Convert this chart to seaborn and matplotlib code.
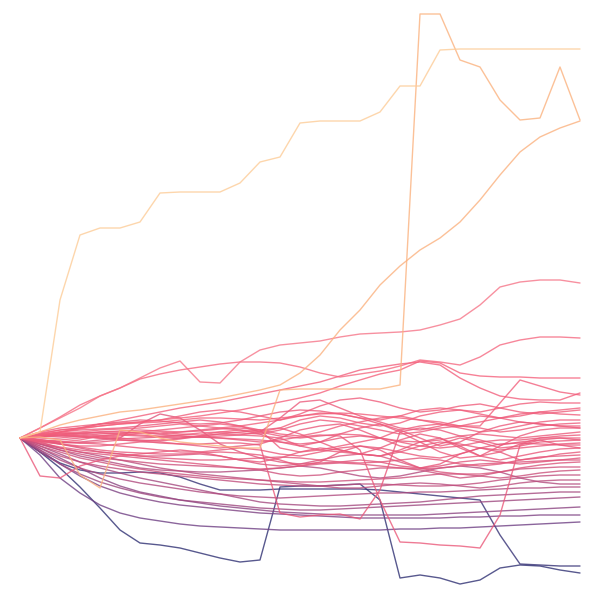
import pandas as pd
import matplotlib
matplotlib.use("Agg")
import matplotlib.pyplot as plt
from matplotlib.colors import LinearSegmentedColormap, Normalize
import seaborn as sns

sns.set_theme(style="white")

# weekly cumulative change of each stock (same start = 0)
weeks = list(range(29))

stair = [0, 6, 138, 203, 210, 210, 216, 245, 246, 246, 246, 255, 276, 281, 315,
         317, 317, 317, 326, 352, 352, 388, 389, 389, 389, 389, 389, 389, 389]
spike = [0, 1, -2, -37, -50, 8, 6, 0, -4, -6, -8, -10, -10, 48, 49,
         49, 49, 49, 49, 53, 424, 424, 378, 371, 338, 318, 320, 371, 318]
climber = [0, 6, 13, 18, 22, 26, 28, 31, 34, 37, 40, 44, 48, 53, 65,
           83, 108, 128, 153, 172, 188, 200, 216, 238, 263, 286, 301, 310, 317]
riser = [0, 10, 20, 30, 42, 50, 60, 70, 77, 56, 55, 76, 88, 93, 95,
         97, 101, 104, 105, 106, 108, 113, 119, 133, 151, 156, 158, 158, 155]
grower = [0, 10, 21, 33, 42, 50, 59, 64, 68, 71, 74, 76, 76, 75, 71,
          65, 61, 64, 67, 72, 78, 76, 73, 81, 93, 98, 101, 101, 100]
slump = [0, -14, -30, -49, -70, -92, -105, -107, -110, -115, -120, -124, -122, -49, -48,
         -48, -47, -46, -62, -140, -137, -140, -146, -142, -130, -127, -128, -132, -135]
drop = [0, -14, -25, -32, -35, -35, -34, -35, -39, -46, -52, -52, -52, -51, -51,
        -51, -51, -51, -52, -54, -56, -58, -60, -62, -97, -126, -127, -128, -128]
gap_a = [0, -2, -4, -5, -4, -2, -3, -5, -6, -6, -5, -5, -7, -75, -79,
         -77, -76, -81, -52, 6, 10, 8, 2, -2, -7, -4, -2, -7, -10]
gap_b = [0, 2, 3, 2, 0, -2, -3, -2, 0, 1, 0, -2, -4, -2, 1,
         3, 2, -12, -62, -104, -105, -107, -108, -110, -77, -7, -2, 0, -2]
sink = [0, -17, -40, -55, -67, -75, -80, -83, -86, -88, -89, -90, -91, -92, -92,
        -92, -92, -92, -92, -91, -91, -90, -90, -89, -88, -87, -86, -85, -84]

s01 = [0, 4, 8, 10, 12, 14, 15, 16, 18, 20, 20, 19, 18, 20, 22, 24, 25, 24, 22, 20, 18, 16, 12, 12, 35, 58, 52, 46, 43]
s02 = [0, 3, 6, 9, 12, 14, 16, 18, 20, 22, 25, 28, 32, 36, 40, 45, 52, 58, 64, 68, 77, 75, 65, 62, 61, 61, 60, 60, 60]
s03 = [0, 5, 8, 10, 14, 18, 22, 26, 30, 33, 36, 40, 44, 48, 52, 56, 62, 68, 71, 74, 76, 73, 60, 50, 42, 39, 38, 38, 45]
s04 = [0, 2, 5, 6, 8, 9, 10, 12, 14, 12, 10, 12, 15, 18, 22, 25, 24, 20, 18, 22, 28, 30, 28, 26, 30, 34, 36, 35, 35]
s05 = [0, 3, 4, 2, 0, 2, 5, 6, 4, 3, 6, 8, 6, 10, 18, 22, 20, 15, 12, 15, 22, 26, 28, 24, 20, 22, 26, 28, 30]
s06 = [0, -2, -4, -2, 2, 4, 6, 8, 10, 12, 14, 12, 8, 4, 2, 6, 12, 16, 20, 22, 18, 14, 12, 16, 20, 24, 26, 24, 23]
s07 = [0, 1, 3, 5, 6, 7, 8, 7, 6, 7, 9, 10, 8, -10, -14, -12, -8, -4, 0, 8, 12, 14, 10, 6, 8, 12, 16, 18, 18]
s08 = [0, 2, 4, 5, 5, 4, 3, 2, 3, 5, 6, 5, 4, 8, 14, 18, 16, 12, 8, 4, 6, 10, 12, 10, 6, 8, 12, 14, 15]
s09 = [0, -1, 0, 2, 4, 5, 6, 4, 2, 1, 2, 3, 2, 0, -8, -4, 4, 10, 14, 8, 0, -8, -4, 6, 12, 16, 14, 12, 10]
s10 = [0, 4, 6, 8, 9, 10, 12, 14, 16, 18, 16, 12, 6, 2, 0, 2, 4, 3, 0, -3, -4, -2, 2, 4, 2, 0, 2, 4, 6]
s11 = [0, -3, -2, 0, 2, 3, 2, 1, 0, 2, 4, 6, 8, 10, 4, -4, -12, -16, -10, -2, 4, 0, -10, -18, -14, -6, 0, 2, 3]
s12 = [0, 2, 2, 1, 0, -1, 0, 1, 2, 1, 0, -1, -2, -4, -6, -4, 0, 2, 0, -4, -8, -10, -8, -4, -2, -2, 0, 0, 0]
s13 = [0, -4, -6, -8, -8, -6, -4, -4, -6, -8, -10, -8, -6, 0, 8, 12, 14, 8, 0, -8, -12, -6, 0, -4, -10, -8, -4, -3, -2]
s14 = [0, -2, -4, -5, -6, -8, -10, -12, -14, -14, -12, -10, -12, -16, -18, -14, -10, -8, -10, -14, -18, -20, -16, -10, -6, -5, -6, -7, -7]
s15 = [0, 1, 2, 4, 6, 6, 5, 4, 6, 8, 10, 8, 4, -4, -8, -12, -14, -16, -18, -12, -4, 0, -8, -18, -22, -18, -14, -11, -10]
s16 = [0, -3, -6, -9, -12, -14, -15, -16, -16, -15, -14, -15, -17, -22, -28, -24, -14, -8, -12, -22, -30, -26, -16, -10, -14, -22, -20, -16, -14]
s17 = [0, -5, -9, -12, -14, -16, -18, -20, -21, -22, -22, -21, -20, -19, -20, -22, -24, -25, -24, -22, -20, -22, -26, -28, -26, -22, -19, -18, -17]
s18 = [0, -4, -10, -14, -16, -18, -20, -22, -24, -26, -28, -30, -31, -30, -28, -26, -25, -26, -28, -30, -31, -30, -28, -26, -25, -24, -23, -22, -22]
s19 = [0, -6, -12, -16, -20, -22, -24, -26, -27, -28, -29, -30, -32, -36, -38, -37, -34, -32, -30, -30, -32, -36, -40, -38, -34, -31, -30, -29, -29]
s20 = [0, -8, -14, -20, -24, -28, -31, -34, -36, -38, -40, -41, -42, -43, -44, -44, -43, -42, -41, -40, -38, -36, -36, -38, -40, -38, -35, -33, -32]
s21 = [0, -10, -18, -24, -28, -31, -34, -36, -38, -40, -42, -44, -46, -47, -48, -48, -47, -46, -46, -47, -48, -48, -47, -45, -42, -40, -38, -37, -37]
s22 = [0, -6, -10, -14, -18, -22, -26, -30, -33, -36, -38, -40, -42, -44, -46, -48, -50, -50, -48, -46, -45, -46, -48, -50, -48, -45, -43, -42, -42]
s23 = [0, -12, -22, -30, -36, -41, -45, -48, -51, -54, -56, -58, -59, -60, -59, -58, -57, -56, -55, -55, -54, -54, -53, -52, -51, -50, -50, -49, -49]
s24 = [0, -8, -16, -24, -30, -35, -40, -44, -48, -52, -56, -60, -64, -66, -67, -68, -68, -67, -66, -65, -64, -62, -60, -58, -57, -56, -55, -54, -54]
s25 = [0, -14, -26, -36, -44, -50, -55, -59, -62, -64, -66, -68, -70, -71, -72, -72, -71, -70, -69, -68, -67, -66, -65, -64, -63, -62, -61, -60, -59]
s26 = [0, -10, -20, -30, -40, -48, -54, -58, -62, -65, -68, -70, -72, -74, -75, -76, -77, -77, -77, -77, -77, -76, -75, -74, -73, -72, -71, -70, -69]
s27 = [0, -12, -26, -38, -48, -55, -60, -64, -67, -69, -71, -73, -75, -76, -77, -78, -79, -80, -80, -80, -80, -80, -79, -79, -78, -78, -77, -77, -77]
s28 = [0, -3, -5, -4, -2, 0, 14, 24, 20, 8, -6, -14, -20, -24, -26, -25, -24, -22, -24, -28, -30, -28, -24, -22, -24, -26, -24, -22, -20]
s29 = [0, -38, -40, -28, -22, -18, -16, -14, -12, -14, -18, -22, -24, -20, -14, -10, -12, -16, -18, -14, -8, -4, -6, -10, -12, -10, -8, -6, -5]
s30 = [0, 3, 5, 4, 2, 0, -2, -3, -1, 2, 4, 3, 6, 20, 36, 38, 30, 22, 16, 10, 8, 12, 18, 22, 20, 16, 14, 12, 12]
s31 = [0, 2, 6, 10, 14, 16, 18, 17, 15, 14, 15, 18, 22, 26, 28, 27, 24, 20, 14, 6, -4, -14, -20, -18, -8, 2, 8, 10, 10]
s32 = [0, -6, -12, -18, -22, -26, -30, -32, -33, -34, -34, -33, -32, -30, -28, -30, -34, -38, -40, -38, -34, -30, -28, -30, -34, -40, -44, -46, -46]
s33 = [0, -2, -6, -10, -14, -16, -18, -18, -17, -16, -18, -22, -26, -28, -26, -22, -18, -16, -18, -24, -30, -34, -36, -36, -34, -30, -27, -25, -24]
s34 = [0, 6, 10, 12, 14, 15, 16, 18, 22, 26, 28, 26, 22, 18, 24, 32, 38, 40, 36, 30, 26, 28, 32, 34, 30, 26, 24, 26, 28]

series = {
    "stair": stair, "spike": spike, "climber": climber, "riser": riser, "grower": grower,
    "slump": slump, "drop": drop, "gap_a": gap_a, "gap_b": gap_b, "sink": sink,
    "s01": s01, "s02": s02, "s03": s03, "s04": s04, "s05": s05, "s06": s06, "s07": s07,
    "s08": s08, "s09": s09, "s10": s10, "s11": s11, "s12": s12, "s13": s13, "s14": s14,
    "s15": s15, "s16": s16, "s17": s17, "s18": s18, "s19": s19, "s20": s20, "s21": s21,
    "s22": s22, "s23": s23, "s24": s24, "s25": s25, "s26": s26, "s27": s27, "s28": s28,
    "s29": s29, "s30": s30, "s31": s31, "s32": s32, "s33": s33, "s34": s34,
}

frames = [pd.DataFrame({"week": weeks, "value": vals, "stock": name}) for name, vals in series.items()]
df = pd.concat(frames, ignore_index=True)

# colour each line by its final value: navy (losers) -> pink -> peach (winners)
final = {name: vals[-1] for name, vals in series.items()}
vmin, vmax = min(final.values()), max(final.values())
anchors = [(vmin, "#2e2f72"), (-95, "#5e3c84"), (-55, "#a4487f"), (-15, "#e8577a"),
           (60, "#f5617c"), (170, "#f6788a"), (315, "#fbb07e"), (vmax, "#fdcc98")]
cmap = LinearSegmentedColormap.from_list(
    "ret", [((v - vmin) / (vmax - vmin), c) for v, c in anchors])
norm = Normalize(vmin, vmax)
palette = {name: cmap(norm(v)) for name, v in final.items()}
order = sorted(final, key=final.get)

fig = plt.figure(figsize=(6, 6), dpi=100)
ax = fig.add_axes([0, 0, 1, 1])
sns.lineplot(data=df, x="week", y="value", hue="stock", hue_order=order,
             palette=palette, estimator=None, legend=False,
             linewidth=1.0, alpha=0.8, ax=ax)
ax.set_xlim(-1, 29)
ax.set_ylim(-162, 438)
ax.set_axis_off()

fig.savefig("out.png", dpi=100, facecolor="white")
